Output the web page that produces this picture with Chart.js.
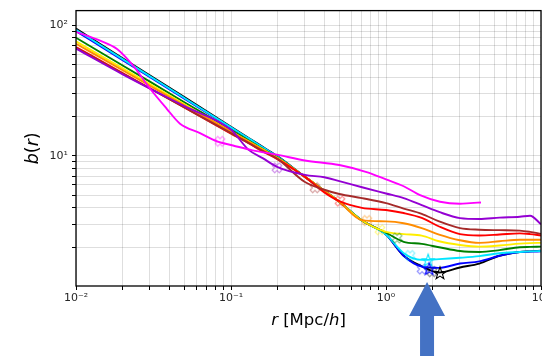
<!DOCTYPE html>
<html>
<head>
<meta charset="utf-8">
<script src="https://cdn.jsdelivr.net/npm/chart.js@4.4.1/dist/chart.umd.min.js"></script>
<style>
  html, body { margin: 0; padding: 0; background: #fff; overflow: hidden; }
  #wrap { width: 620px; height: 356px; }
</style>
</head>
<body>
<div id="wrap"><canvas id="chart" width="620" height="356"></canvas></div>
<script>
// separations r [Mpc/h] shared by most curves
const rGrid = [0.01, 0.02, 0.05, 0.1, 0.13, 0.16, 0.2, 0.3, 0.4, 0.5, 0.7, 1.0, 1.3, 1.7, 2.2, 3, 4, 5.4, 7.3, 8.5, 10];

// b(r)
const bBlack  = [94, 55.8, 28.1, 16.7, 13.7, 11.7, 9.9, 6.9, 5.4, 4.45, 3.2, 2.5, 1.72, 1.43, 1.28, 1.4, 1.5, 1.72, 1.84, 1.86, 1.88];
const bBlue   = [90, 53.9, 27.4, 16.4, 13.5, 11.6, 9.8, 6.9, 5.4, 4.45, 3.2, 2.5, 1.72, 1.42, 1.39, 1.5, 1.56, 1.72, 1.84, 1.85, 1.86];
const bCyan   = [92, 54.9, 27.7, 16.5, 13.6, 11.6, 9.85, 6.9, 5.4, 4.45, 3.2, 2.5, 1.8, 1.6, 1.62, 1.66, 1.71, 1.8, 1.84, 1.86, 1.87];
const bGreen  = [80, 49.1, 25.7, 15.8, 13.1, 11.3, 9.7, 6.9, 5.4, 4.45, 3.2, 2.58, 2.2, 2.12, 2.0, 1.87, 1.84, 1.9, 2.0, 2.01, 2.02];
const bYellow = [75, 46.6, 24.8, 15.4, 12.9, 11.2, 9.6, 6.9, 5.4, 4.45, 3.2, 2.62, 2.52, 2.45, 2.22, 2.08, 2.02, 2.06, 2.13, 2.15, 2.16];
const bOrange = [72, 45.1, 24.3, 15.3, 12.8, 11.1, 9.55, 6.9, 5.4, 4.45, 3.22, 3.15, 3.05, 2.8, 2.5, 2.26, 2.16, 2.22, 2.28, 2.28, 2.28];
const bRed    = [68, 43.0, 23.4, 14.8, 12.5, 10.8, 9.4, 6.9, 5.25, 4.5, 4.0, 3.85, 3.65, 3.35, 2.88, 2.52, 2.46, 2.5, 2.55, 2.52, 2.46];
const bBrown  = [67, 42.6, 23.4, 14.9, 12.5, 10.9, 9.45, 6.3, 5.5, 5.1, 4.75, 4.35, 3.95, 3.6, 3.15, 2.8, 2.72, 2.7, 2.68, 2.62, 2.53];
const bPurple = [66, 42.0, 24.0, 15.8, 11.1, 9.6, 8.2, 7.15, 6.85, 6.4, 5.75, 5.15, 4.75, 4.2, 3.72, 3.34, 3.29, 3.37, 3.42, 3.48, 3.0];

// magenta curve has its own sampling
const rMagenta = [0.01, 0.0143, 0.0184, 0.0233, 0.03, 0.0384, 0.0469, 0.0631, 0.0812, 0.103, 0.138, 0.198, 0.3, 0.5, 0.75, 1.0, 1.3, 1.66, 2.23, 3.0, 3.5, 4.1];
const bMagenta = [88.8, 75.9, 65.6, 49.1, 32.7, 23.0, 17.6, 14.9, 12.9, 12.0, 11.0, 10.2, 9.2, 8.5, 7.5, 6.6, 5.85, 5.0, 4.45, 4.3, 4.35, 4.4];

// X markers (one per curve) and star markers at the minima
const kneeR = [0.085, 0.198, 0.348, 0.505, 0.753, 0.914, 1.18, 1.43, 1.71, 1.98];
const kneeB = [12.9, 8.1, 5.7, 4.5, 3.2, 2.72, 2.35, 1.73, 1.36, 1.3];
const starR = [1.87, 1.9, 2.23];
const starB = [1.59, 1.37, 1.27];

// axes
const xMajor = [0.01, 0.1, 1, 10];
const xMajorLabels = ['10\u207b\u00b2', '10\u207b\u00b9', '10\u2070', '10\u00b9'];
const yMajor = [10, 100];
const yMajorLabels = ['10\u00b9', '10\u00b2'];
const arrowR = 1.84;

// styles
const series = [
    { data: [rGrid, bBlack],  color: '#000000' },
    { data: [rGrid, bBlue],   color: '#0000ff' },
    { data: [rGrid, bCyan],   color: '#00e5ff' },
    { data: [rGrid, bGreen],  color: '#008000' },
    { data: [rGrid, bYellow], color: '#ffee00' },
    { data: [rGrid, bOrange], color: '#ff8c00' },
    { data: [rGrid, bRed],    color: '#ff0000' },
    { data: [rGrid, bBrown],  color: '#a52a2a' },
    { data: [rGrid, bPurple], color: '#9400d3' },
    { data: [rMagenta, bMagenta], color: '#ff00ff' }
];
const kneeColors = ['#ff00ff', '#9400d3', '#a52a2a', '#ff0000', '#ff8c00', '#ffee00', '#008000', '#00e5ff', '#0000ff', '#000000'];
const starColors = ['#00e5ff', '#0000ff', '#000000'];

// minor + major tick values for a log axis
function logTicks(d0, d1, lo, hi) {
    const out = [];
    for (let d = d0; d <= d1; d++) {
        for (let k = 1; k <= 9; k++) {
            const v = k * Math.pow(10, d);
            if (v >= lo * 0.9999 && v <= hi * 1.0001) out.push(v);
        }
    }
    return out;
}
function majorLabel(v, majors, labels) {
    for (let i = 0; i < majors.length; i++) {
        if (Math.abs(Math.log10(v) - Math.log10(majors[i])) < 1e-6) return labels[i];
    }
    return '';
}

// outlined thick X, like matplotlib 'X' with no face
function xMarker(color) {
    const c = document.createElement('canvas');
    c.width = c.height = 16;
    const g = c.getContext('2d');
    g.translate(8, 8);
    g.rotate(Math.PI / 4);
    const w = 1.8, L = 5;
    const pts = [[-w,-L],[w,-L],[w,-w],[L,-w],[L,w],[w,w],[w,L],[-w,L],[-w,w],[-L,w],[-L,-w],[-w,-w]];
    g.beginPath();
    pts.forEach((p, i) => i ? g.lineTo(p[0], p[1]) : g.moveTo(p[0], p[1]));
    g.closePath();
    g.globalAlpha = 0.45;
    g.strokeStyle = color;
    g.lineWidth = 1.2;
    g.stroke();
    return c;
}
function starMarker(color) {
    const c = document.createElement('canvas');
    c.width = c.height = 18;
    const g = c.getContext('2d');
    g.translate(9, 9.5);
    g.beginPath();
    for (let i = 0; i < 10; i++) {
        const rad = i % 2 ? 2.6 : 6.5;
        const a = -Math.PI / 2 + i * Math.PI / 5;
        const px = rad * Math.cos(a), py = rad * Math.sin(a);
        i ? g.lineTo(px, py) : g.moveTo(px, py);
    }
    g.closePath();
    g.strokeStyle = color;
    g.lineWidth = 1.1;
    g.stroke();
    return c;
}

const kneeImgs = kneeColors.map(xMarker);
const starImgs = starColors.map(starMarker);

const datasets = series.map((s, i) => ({
    data: s.data[0].map((r, j) => ({ x: r, y: s.data[1][j] })),
    borderColor: s.color,
    borderWidth: 1.9,
    pointRadius: 0,
    cubicInterpolationMode: 'monotone',
    fill: false,
    order: series.length - i + 2
}));
datasets.push({
    data: kneeR.map((r, j) => ({ x: r, y: kneeB[j] })),
    showLine: false,
    pointStyle: ctx => kneeImgs[ctx.dataIndex],
    pointRadius: 6,
    order: 1
});
datasets.push({
    data: starR.map((r, j) => ({ x: r, y: starB[j] })),
    showLine: false,
    pointStyle: ctx => starImgs[ctx.dataIndex],
    pointRadius: 6,
    order: 0
});

const tickFont = { family: 'DejaVu Sans', size: 11 };
const gridColor = 'rgba(0,0,0,0.13)';

// frame, axis titles and the blue arrow
const decorPlugin = {
    id: 'decor',
    afterDraw(chart) {
        const { ctx, chartArea: a } = chart;
        const xs = chart.scales.x;
        ctx.save();
        ctx.strokeStyle = '#000';
        ctx.lineWidth = 1.3;
        ctx.strokeRect(a.left, a.top, a.right - a.left, a.bottom - a.top);

        const drawParts = (parts, size) => {
            let total = 0;
            parts.forEach(p => {
                ctx.font = (p[1] ? 'oblique ' : '') + size + 'px "DejaVu Sans"';
                total += ctx.measureText(p[0]).width;
            });
            let cx = -total / 2;
            parts.forEach(p => {
                ctx.font = (p[1] ? 'oblique ' : '') + size + 'px "DejaVu Sans"';
                ctx.fillText(p[0], cx, 0);
                cx += ctx.measureText(p[0]).width;
            });
        };
        ctx.fillStyle = '#000';
        ctx.textAlign = 'left';

        ctx.save();
        ctx.translate((a.left + a.right) / 2, 325);
        ctx.textBaseline = 'alphabetic';
        drawParts([['r', true], [' [Mpc/', false], ['h', true], [']', false]], 16.5);
        ctx.restore();

        ctx.save();
        ctx.translate(33, (a.top + a.bottom) / 2);
        ctx.rotate(-Math.PI / 2);
        ctx.textBaseline = 'middle';
        drawParts([['b', true], ['(', false], ['r', true], [')', false]], 17.5);
        ctx.restore();

        const ax = xs.getPixelForValue(arrowR);
        const tip = a.bottom - 4;
        const H = chart.height;
        ctx.fillStyle = '#4472c4';
        ctx.beginPath();
        ctx.moveTo(ax, tip);
        ctx.lineTo(ax + 18, tip + 34);
        ctx.lineTo(ax + 7, tip + 34);
        ctx.lineTo(ax + 7, H);
        ctx.lineTo(ax - 7, H);
        ctx.lineTo(ax - 7, tip + 34);
        ctx.lineTo(ax - 18, tip + 34);
        ctx.closePath();
        ctx.fill();
        ctx.restore();
    }
};

new Chart(document.getElementById('chart'), {
    type: 'line',
    data: { datasets },
    options: {
        responsive: false,
        animation: false,
        devicePixelRatio: 1,
        layout: { padding: { left: 0, top: 8, right: 79, bottom: 0 } },
        plugins: { legend: { display: false }, tooltip: { enabled: false } },
        scales: {
            x: {
                type: 'logarithmic',
                min: 0.01,
                max: 10,
                afterBuildTicks: s => { s.ticks = logTicks(-2, 1, 0.01, 10).map(v => ({ value: v })); },
                afterFit: s => { s.height = 70; },
                ticks: {
                    autoSkip: false,
                    maxRotation: 0,
                    padding: 2,
                    font: tickFont,
                    color: '#262626',
                    callback: v => majorLabel(v, xMajor, xMajorLabels)
                },
                grid: { color: gridColor, lineWidth: 1, tickColor: '#000', tickLength: 4 },
                border: { display: false }
            },
            y: {
                type: 'logarithmic',
                min: 1.01,
                max: 129,
                afterBuildTicks: s => { s.ticks = logTicks(0, 2, 1.01, 129).map(v => ({ value: v })); },
                afterFit: s => { s.width = 76; },
                ticks: {
                    autoSkip: false,
                    padding: 4,
                    font: tickFont,
                    color: '#262626',
                    callback: v => majorLabel(v, yMajor, yMajorLabels)
                },
                grid: { color: gridColor, lineWidth: 1, tickColor: '#000', tickLength: 4 },
                border: { display: false }
            }
        }
    },
    plugins: [decorPlugin]
});
</script>
</body>
</html>
